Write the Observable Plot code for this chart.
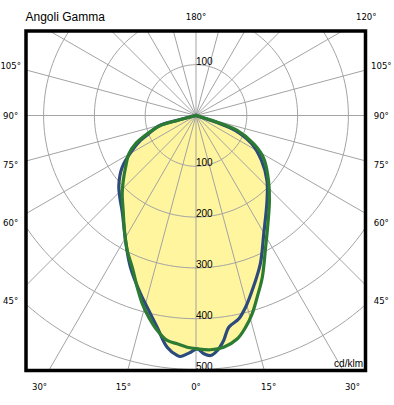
<!DOCTYPE html>
<html><head><meta charset="utf-8">
<script src="https://cdn.jsdelivr.net/npm/d3@7"></script>
<script src="https://cdn.jsdelivr.net/npm/@observablehq/plot@0.6"></script>
<style>body{margin:0;background:#fff;} svg{display:block;}</style>
</head><body><div id="chart"></div>
<script>
// ---- data (gamma angle in degrees from nadir, negative = left half; intensity in cd/klm)
const greenGamma = [-90,-75.1,-74.3,-69.4,-64.9,-60.3,-53.7,-48.2,-43.3,-37.5,-31.9,-27.0,-22.8,-18.9,-15.9,-13.2,-10.2,-7.3,-4.7,-2.2,0.3,3.5,6.8,10.5,13.2,15.8,18.6,22.3,27.8,32.6,40.8,48.1,56.7,60.2,63.9,70,72.5,90];
const greenIntensity = [0,38,72.6,102.6,131.5,152.2,172,192,211.8,235.6,266.5,298.3,324,357.3,385.5,407.7,430,446.5,451,456.4,459.3,462,459.4,447,428,405.7,377.4,344,293.7,261.6,221.2,191.7,161.4,146.4,126.7,86.3,43.8,0];
const blueGamma = [-90,-75.5,-74.5,-68.5,-65.8,-61.3,-55.0,-47.8,-43.0,-37.3,-29.4,-23.4,-17.3,-14.3,-10.4,-7.1,-4.5,-3.7,-2.1,-1.3,0.3,1.9,3.5,5.2,7.0,8.8,11.9,14.5,18.8,23.5,29.8,39.9,47.5,55.5,63.2,69.2,71.6,90];
const blueIntensity = [0,40,75,102,119.8,143.2,177.4,205.1,219.9,239.4,282.5,325.2,367.5,389.4,423.6,459.6,473.8,475.4,469.5,466.1,459.3,469.3,473.3,464.5,446.3,421.7,409,389.8,353.5,317.8,268.4,218,189.5,156.4,122.4,83.2,40.5,0];
const ringValues = [100,200,300,400,500];
const upperRingLabels = [100];
const spokeAngles = d3.range(0, 360, 15);
const angleLabels = [-105,-90,-75,-60,-45,-30,-15,0,15,30,45,60,75,90,105,120,180];
const titleText = "Angoli Gamma";
const unitText = "cd/klm";

// ---- layout
const W = 394, H = 405;
const PX = 0.508;              // pixels per cd/klm
const cx = 195.5, cy = 115;    // pole position in pixels
const fl = 25.5, ft = 30.5, fr = 365, fb = 370; // frame
const LBL_X = 185.3, LBL_TOP = 98.3, LBL_BOT = 271; // label ring (px from pole)
const rad = d => d * Math.PI / 180;
const polar = (g, r) => ({x: r * Math.sin(rad(g)), y: r * Math.cos(rad(g))});

const greenPts = greenGamma.map((g, i) => polar(g, greenIntensity[i]));
const bluePts = blueGamma.map((g, i) => polar(g, blueIntensity[i]));
const circlePts = ringValues.flatMap(r => d3.range(0, 361, 2).map(a => ({ring: r, ...polar(a, r)})));
const spokes = spokeAngles.map(a => polar(a, 900));
const ringLabels = [...ringValues.map(v => ({v, y: v})), ...upperRingLabels.map(v => ({v, y: -v}))];

function labelPos(g) {
  const sx = Math.sin(rad(g)), sy = Math.cos(rad(g));
  let t = Infinity;
  if (Math.abs(sx) > 1e-9) t = Math.min(t, LBL_X / Math.abs(sx));
  if (sy > 1e-9) t = Math.min(t, LBL_BOT / sy);
  else if (sy < -1e-9) t = Math.min(t, LBL_TOP / -sy);
  return {x: t * sx / PX, y: t * sy / PX, text: Math.abs(g) + "°"};
}
const angleLabelPts = angleLabels.map(labelPos);

const narrow = "'Liberation Sans Narrow','DejaVu Sans Condensed',sans-serif";
const sans = "'Liberation Sans',Arial,sans-serif";
const fillCol = "#fff59e", grid = "#a3a3a3";

const chart = Plot.plot({
  width: W, height: H,
  marginLeft: fl, marginTop: ft, marginRight: W - fr, marginBottom: H - fb,
  x: {domain: [(fl - cx) / PX, (fr - cx) / PX], axis: null},
  y: {domain: [(ft - cy) / PX, (fb - cy) / PX], reverse: true, axis: null},
  style: {background: "white", fontFamily: sans},
  marks: [
    Plot.line(greenPts, {x: "x", y: "y", fill: fillCol, stroke: "none", curve: "catmull-rom"}),
    Plot.line(bluePts, {x: "x", y: "y", fill: fillCol, stroke: "none", curve: "catmull-rom"}),
    Plot.line(circlePts, {x: "x", y: "y", z: "ring", stroke: grid, strokeWidth: 1, clip: true}),
    Plot.link(spokes, {x1: 0, y1: 0, x2: "x", y2: "y", stroke: grid, strokeWidth: 1, clip: true}),
    Plot.line(bluePts, {x: "x", y: "y", stroke: "#2c4b7d", strokeWidth: 3.2, curve: "catmull-rom", strokeLinejoin: "round"}),
    Plot.line(greenPts, {x: "x", y: "y", stroke: "#2b7b33", strokeWidth: 3.2, curve: "catmull-rom", strokeLinejoin: "round"}),
    Plot.text(ringLabels, {x: 0, y: "y", text: d => String(d.v), textAnchor: "start", lineAnchor: "bottom", fontSize: 10, fill: "black", fontFamily: sans}),
    Plot.text(angleLabelPts, {x: "x", y: "y", text: "text", textAnchor: "middle", lineAnchor: "middle", fontSize: 9.5, fill: "black", fontFamily: narrow}),
    Plot.text([titleText], {frameAnchor: "top-left", text: d => d, textAnchor: "start", lineAnchor: "bottom", dx: -0.5, dy: -10.5, fontSize: 12, fill: "black", fontFamily: sans}),
    Plot.text([unitText], {frameAnchor: "bottom-right", text: d => d, textAnchor: "end", lineAnchor: "bottom", dx: -2.5, dy: -4, fontSize: 10, fill: "black", fontFamily: sans}),
    Plot.frame({stroke: "black", strokeWidth: 3.5})
  ]
});
document.getElementById("chart").append(chart);
</script>
</body></html>
